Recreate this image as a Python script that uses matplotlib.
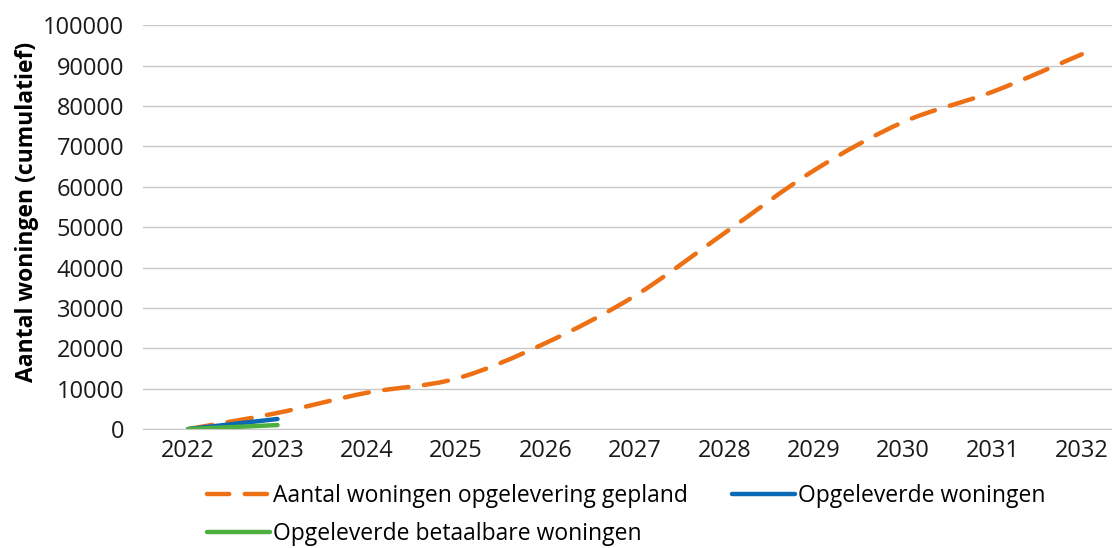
import matplotlib
matplotlib.use("Agg")
import matplotlib.pyplot as plt
from matplotlib.lines import Line2D
from matplotlib.path import Path
from matplotlib.patches import PathPatch

years = ["2022", "2023", "2024", "2025", "2026", "2027", "2028", "2029", "2030", "2031", "2032"]
gepland = [0, 4000, 9000, 12500, 21300, 33000, 48500, 64000, 76000, 83500, 92800]
opgeleverd = [0, 2500]
betaalbaar = [0, 1000]

plt.rcParams['font.family'] = ['Open Sans', 'DejaVu Sans']

fig = plt.figure(figsize=(11.12, 5.48), dpi=100)
ax = fig.add_axes([0.129, 0.217, 1.013 - 0.129, 0.954 - 0.217])

x = list(range(len(years)))
c_or = '#ED7014'
c_bl = '#0A68B4'
c_gr = '#4CAF3E'


def smooth_path(xs, ys):
    # Excel-style smoothed line: cubic Bezier segments through the data points
    n = len(xs)
    verts = [(xs[0], ys[0])]
    codes = [Path.MOVETO]
    for i in range(n - 1):
        x0, y0 = (xs[i - 1], ys[i - 1]) if i > 0 else (xs[i], ys[i])
        x1, y1 = xs[i], ys[i]
        x2, y2 = xs[i + 1], ys[i + 1]
        x3, y3 = (xs[i + 2], ys[i + 2]) if i + 2 < n else (xs[i + 1], ys[i + 1])
        c1 = (x1 + (x2 - x0) / 6.0, y1 + (y2 - y0) / 6.0)
        c2 = (x2 - (x3 - x1) / 6.0, y2 - (y3 - y1) / 6.0)
        verts += [c1, c2, (x2, y2)]
        codes += [Path.CURVE4] * 3
    return Path(verts, codes)


patch = PathPatch(smooth_path(x, gepland), fill=False, edgecolor=c_or, lw=3.2,
                  linestyle=(0, (5.5, 3.5)), capstyle='round', zorder=3)
ax.add_patch(patch)
ax.plot(x[:len(opgeleverd)], opgeleverd, color=c_bl, lw=3.2, solid_capstyle='round', zorder=4)
ax.plot(x[:len(betaalbaar)], betaalbaar, color=c_gr, lw=3.2, solid_capstyle='round', zorder=5)

ax.set_xlim(-0.5, len(years) - 0.5)
ax.set_ylim(0, 100000)
ax.set_yticks(range(0, 100001, 10000))
ax.set_xticks(x)
ax.set_xticklabels(years)
ax.grid(axis='y', color='#C8C8C8', lw=1)
ax.set_axisbelow(True)
for s in ['top', 'right', 'left']:
    ax.spines[s].set_visible(False)
ax.spines['bottom'].set_color('#C8C8C8')
ax.tick_params(axis='both', length=0, labelsize=17, colors='#1a1a1a')
ax.tick_params(axis='x', pad=7)
ax.tick_params(axis='y', pad=14)
ax.set_ylabel('Aantal woningen (cumulatief)', fontsize=16.5, fontweight='bold')
ax.yaxis.set_label_coords(-0.106, 0.537)

handles = [
    Line2D([], [], color=c_or, lw=3.2, dashes=(5.0, 3.5), dash_capstyle='round'),
    Line2D([], [], color=c_gr, lw=3.2, solid_capstyle='round'),
    Line2D([], [], color=c_bl, lw=3.2, solid_capstyle='round'),
]
labels = ['Aantal woningen opgelevering gepland', 'Opgeleverde betaalbare woningen', 'Opgeleverde woningen']
fig.legend(handles, labels, loc='upper left', bbox_to_anchor=(0.186, 0.117), ncol=2,
           frameon=False, fontsize=16.5, handlelength=2.75, handletextpad=0.15,
           columnspacing=1.9, labelspacing=0.6, borderaxespad=0, borderpad=0)

fig.savefig('out.png', dpi=100)
